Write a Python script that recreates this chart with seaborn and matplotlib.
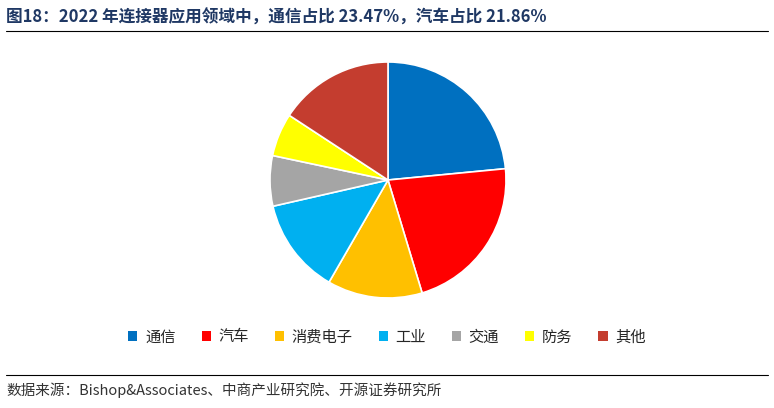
import matplotlib
matplotlib.use("Agg")
import matplotlib.pyplot as plt
import seaborn as sns
from matplotlib.patches import Patch
from matplotlib.lines import Line2D

sns.set_theme(style="white")
plt.rcParams["font.family"] = ["Noto Sans CJK SC", "DejaVu Sans"]

categories = ["通信", "汽车", "消费电子", "工业", "交通", "防务", "其他"]
shares = [23.47, 21.86, 13.0, 13.1, 6.9, 5.9, 15.77]
colors = ["#0070C0", "#FF0000", "#FFC000", "#00B0F0", "#A5A5A5", "#FFFF00", "#C43D2F"]

fig = plt.figure(figsize=(7.74, 4.08), dpi=100)

# pie: center ~ (388,180) px, radius ~118 px
ax = fig.add_axes([(388 - 120) / 774, 1 - (180 + 120) / 408, 240 / 774, 240 / 408])
ax.pie(shares, colors=colors, startangle=90, counterclock=False,
       wedgeprops={"edgecolor": "white", "linewidth": 1.2}, radius=118 / 120)
ax.set_xlim(-1, 1)
ax.set_ylim(-1, 1)
ax.set_aspect("equal")

fig.text(0.008, 1 - 18 / 408, "图18：2022 年连接器应用领域中，通信占比 23.47%，汽车占比 21.86%",
         fontsize=12, fontweight="bold", color="#1F3864", va="center")
fig.add_artist(Line2D([0.008, 0.992], [1 - 31 / 408] * 2, color="black", lw=0.8))
fig.add_artist(Line2D([0.008, 0.992], [1 - 375 / 408] * 2, color="black", lw=0.8))
fig.text(0.008, 1 - 390 / 408, "数据来源：Bishop&Associates、中商产业研究院、开源证券研究所",
         fontsize=10.5, color="#333333", va="center")

handles = [Patch(facecolor=c, edgecolor="none") for c in colors]
fig.legend(handles, categories, loc="center", bbox_to_anchor=(0.5, 1 - 337 / 408),
           ncol=7, frameon=False, fontsize=11, handlelength=0.6, handleheight=0.6,
           columnspacing=1.7, handletextpad=0.5)

fig.savefig("out.png", dpi=100)
